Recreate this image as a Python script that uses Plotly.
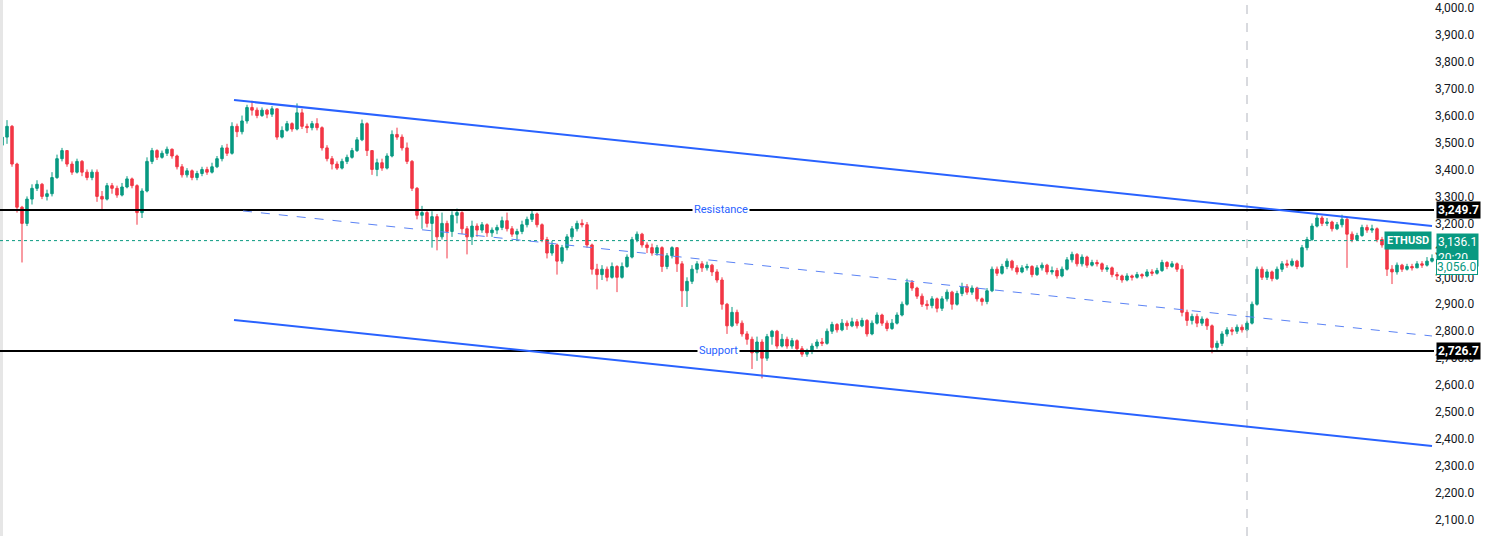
import plotly.graph_objects as go

# ---------------- data (ETHUSD candles) ----------------
first_open = 3490
closes = [
    3520, 3560, 3420, 3260, 3200, 3290, 3330, 3345, 3300, 3310,
    3370, 3440, 3470, 3420, 3390, 3430, 3390, 3370, 3390, 3300,
    3290, 3340, 3330, 3305, 3335, 3365, 3340, 3240, 3320, 3430,
    3470, 3445, 3460, 3475, 3450, 3410, 3380, 3395, 3370, 3385,
    3400, 3390, 3410, 3440, 3480, 3460, 3560, 3540, 3580, 3630,
    3620, 3600, 3620, 3605, 3625, 3520, 3545, 3570, 3550, 3610,
    3560, 3555, 3570, 3555, 3480, 3440, 3420, 3405, 3430, 3445,
    3470, 3510, 3570, 3470, 3400, 3425, 3405, 3450, 3530, 3520,
    3480, 3430, 3330, 3230, 3240, 3200, 3225, 3150, 3200, 3170,
    3230, 3240, 3180, 3150, 3190, 3175, 3195, 3165, 3175, 3185,
    3210, 3180, 3160, 3170, 3195, 3215, 3235, 3195, 3140, 3090,
    3120, 3060, 3110, 3150, 3180, 3200, 3195, 3120, 3030, 3010,
    3030, 3000, 3040, 3000, 3040, 3075, 3140, 3160, 3120, 3110,
    3090, 3110, 3040, 3080, 3110, 3050, 2950, 2985, 3030, 3050,
    3035, 3045, 3020, 2990, 2900, 2820, 2870, 2830, 2790, 2770,
    2720, 2760, 2700, 2780, 2800, 2745, 2770, 2745, 2765, 2735,
    2715, 2725, 2745, 2760, 2755, 2800, 2825, 2805, 2830, 2820,
    2835, 2820, 2840, 2790, 2830, 2860, 2830, 2810, 2830, 2860,
    2900, 2980, 2960, 2930, 2900, 2895, 2920, 2885, 2920, 2945,
    2900, 2940, 2965, 2945, 2960, 2920, 2910, 2950, 3030, 3015,
    3040, 3060, 3035, 3020, 3035, 3040, 3010, 3035, 3045, 3020,
    3025, 3005, 3030, 3065, 3085, 3050, 3075, 3045, 3055, 3050,
    3030, 3035, 3010, 3005, 2990, 3005, 3000, 3010, 3005, 3020,
    3015, 3025, 3055, 3040, 3050, 3030, 2870, 2840, 2855, 2830,
    2845, 2820, 2740, 2755, 2790, 2805, 2800, 2815, 2805, 2830,
    2900, 3030, 3000, 3020, 2995, 3030, 3050, 3045, 3060, 3040,
    3110, 3140, 3190, 3220, 3200, 3205, 3180, 3195, 3215, 3160,
    3140, 3155, 3185, 3175, 3180, 3140, 3120, 3030, 3020, 3045,
    3030, 3040, 3035, 3050, 3045, 3060, 3070,
]
highs = [
    3535, 3583, 3565, 3425, 3265, 3300, 3345, 3360, 3350, 3325,
    3390, 3455, 3480, 3465, 3430, 3440, 3435, 3400, 3400, 3400,
    3320, 3350, 3350, 3340, 3350, 3375, 3370, 3345, 3330, 3445,
    3480, 3475, 3470, 3485, 3478, 3455, 3420, 3405, 3400, 3395,
    3410, 3410, 3425, 3450, 3490, 3495, 3575, 3570, 3600, 3640,
    3655, 3630, 3630, 3625, 3635, 3625, 3560, 3580, 3575, 3645,
    3625, 3570, 3580, 3590, 3560, 3490, 3450, 3430, 3440, 3455,
    3480, 3520, 3585, 3575, 3470, 3440, 3440, 3460, 3545, 3555,
    3530, 3500, 3435, 3335, 3265, 3250, 3245, 3235, 3240, 3210,
    3245, 3255, 3245, 3190, 3210, 3200, 3205, 3200, 3185, 3195,
    3225, 3240, 3190, 3180, 3210, 3225, 3250, 3240, 3200, 3150,
    3135, 3125, 3120, 3160, 3190, 3210, 3215, 3205, 3125, 3050,
    3045, 3040, 3055, 3045, 3055, 3085, 3150, 3170, 3165, 3130,
    3125, 3120, 3115, 3090, 3115, 3110, 3060, 3000, 3045, 3060,
    3060, 3058, 3050, 3030, 3000, 2905, 2890, 2880, 2840, 2800,
    2780, 2780, 2770, 2790, 2805, 2805, 2790, 2780, 2775, 2770,
    2745, 2735, 2755, 2770, 2775, 2810, 2835, 2830, 2845, 2840,
    2850, 2845, 2850, 2845, 2840, 2870, 2865, 2840, 2845, 2870,
    2910, 2995, 2990, 2965, 2940, 2915, 2930, 2925, 2930, 2955,
    2950, 2950, 2980, 2975, 2970, 2965, 2925, 2960, 3040, 3040,
    3050, 3070, 3065, 3045, 3045, 3050, 3045, 3045, 3055, 3050,
    3040, 3035, 3040, 3075, 3095, 3090, 3085, 3080, 3065, 3065,
    3055, 3045, 3040, 3020, 3010, 3015, 3010, 3020, 3015, 3030,
    3030, 3035, 3065, 3060, 3060, 3055, 3045, 2880, 2865, 2865,
    2855, 2850, 2825, 2765, 2800, 2815, 2815, 2825, 2825, 2840,
    2910, 3040, 3040, 3030, 3025, 3040, 3060, 3065, 3070, 3065,
    3120, 3150, 3200, 3232, 3228, 3220, 3210, 3205, 3232, 3220,
    3170, 3165, 3195, 3195, 3195, 3185, 3150, 3125, 3045, 3055,
    3050, 3050, 3050, 3060, 3060, 3075, 3085,
]
lows = [
    3480, 3495, 3410, 3240, 3055, 3190, 3270, 3320, 3290, 3285,
    3300, 3365, 3430, 3410, 3380, 3385, 3375, 3360, 3360, 3280,
    3250, 3285, 3310, 3295, 3300, 3330, 3330, 3195, 3220, 3315,
    3420, 3435, 3440, 3450, 3440, 3400, 3370, 3370, 3360, 3360,
    3375, 3380, 3385, 3405, 3430, 3450, 3455, 3520, 3530, 3570,
    3600, 3590, 3595, 3590, 3595, 3510, 3515, 3540, 3540, 3545,
    3550, 3535, 3545, 3545, 3470, 3430, 3400, 3398, 3400, 3420,
    3440, 3465, 3505, 3450, 3380, 3375, 3395, 3400, 3445, 3510,
    3470, 3420, 3320, 3215, 3180, 3185, 3110, 3100, 3140, 3070,
    3150, 3200, 3160, 3085, 3120, 3150, 3165, 3150, 3150, 3160,
    3175, 3170, 3150, 3140, 3160, 3185, 3205, 3185, 3130, 3070,
    3080, 3010, 3050, 3100, 3140, 3170, 3185, 3110, 3010, 2955,
    2990, 2985, 2995, 2945, 2995, 3035, 3070, 3130, 3110, 3090,
    3080, 3080, 3020, 3030, 3070, 3020, 2890, 2890, 2975, 3015,
    3020, 3025, 3005, 2980, 2880, 2790, 2815, 2820, 2780, 2750,
    2660, 2690, 2625, 2690, 2750, 2735, 2740, 2735, 2735, 2725,
    2705, 2705, 2715, 2735, 2745, 2750, 2790, 2795, 2800, 2805,
    2815, 2810, 2815, 2780, 2785, 2825, 2820, 2800, 2805, 2825,
    2855, 2895, 2950, 2920, 2890, 2880, 2885, 2870, 2875, 2910,
    2880, 2895, 2930, 2935, 2935, 2910, 2895, 2900, 2945, 3005,
    3010, 3030, 3025, 3010, 3015, 3025, 3000, 3005, 3025, 3010,
    3010, 2995, 3000, 3025, 3055, 3040, 3040, 3035, 3040, 3040,
    3020, 3020, 3000, 2990, 2980, 2985, 2988, 2995, 2995, 3000,
    3005, 3010, 3020, 3030, 3035, 3020, 2855, 2820, 2825, 2815,
    2820, 2805, 2718, 2725, 2745, 2780, 2785, 2790, 2795, 2800,
    2825, 2895, 2990, 2990, 2985, 2990, 3020, 3035, 3040, 3030,
    3035, 3100, 3135, 3185, 3190, 3190, 3170, 3175, 3185, 3035,
    3130, 3135, 3150, 3165, 3165, 3130, 3110, 3005, 2975, 3010,
    3020, 3025, 3025, 3035, 3035, 3040, 3055,
]
opens = [first_open] + closes[:-1]
index = list(range(len(closes)))

# price levels / drawings
resistance = 3249.7
support = 2726.7
last_price = 3136.1
last_time = "20:20"
prev_label = 3056.0
symbol = "ETHUSD"
channel_x = [46.4, 286.0]
channel_upper = [3657.6, 3190.3]
channel_lower = [2841.6, 2374.3]
mid_x = [48.2, 286.0]
mid_y = [3246.1, 2782.3]
session_x = 249

y_ticks = list(range(2100, 4001, 100))
y_range = [2040.4, 4028.6]
x_range = [-0.4, 286.4]

GREEN = "#089981"
RED = "#f23645"
BLUE = "#2962ff"

fig = go.Figure()
fig.add_trace(go.Candlestick(
    x=index, open=opens, high=highs, low=lows, close=closes,
    increasing=dict(line=dict(color=GREEN, width=1), fillcolor=GREEN),
    decreasing=dict(line=dict(color=RED, width=1), fillcolor=RED),
    whiskerwidth=0, showlegend=False, hoverinfo="skip",
))

shapes = []
# left border strip
shapes.append(dict(type="rect", xref="paper", yref="paper", x0=0, x1=0.0021, y0=0, y1=1,
                   fillcolor="#e6e6e6", line=dict(width=0), layer="above"))
# current price dotted line
shapes.append(dict(type="line", xref="paper", yref="y", x0=0, x1=1, y0=last_price, y1=last_price,
                   line=dict(color=GREEN, width=1, dash="dot")))
# session vertical dashed line
shapes.append(dict(type="line", xref="x", yref="paper", x0=session_x, x1=session_x, y0=0, y1=1,
                   line=dict(color="#b2b5be", width=1, dash="dash")))
# horizontal levels
for lvl in (resistance, support):
    shapes.append(dict(type="line", xref="paper", yref="y", x0=0, x1=1, y0=lvl, y1=lvl,
                       line=dict(color="#000000", width=2)))
# channel
shapes.append(dict(type="line", xref="x", yref="y", x0=channel_x[0], x1=channel_x[1],
                   y0=channel_upper[0], y1=channel_upper[1], line=dict(color=BLUE, width=2)))
shapes.append(dict(type="line", xref="x", yref="y", x0=channel_x[0], x1=channel_x[1],
                   y0=channel_lower[0], y1=channel_lower[1], line=dict(color=BLUE, width=2)))
shapes.append(dict(type="line", xref="x", yref="y", x0=mid_x[0], x1=mid_x[1],
                   y0=mid_y[0], y1=mid_y[1], line=dict(color="#5b83f5", width=1, dash="dash")))

FONT = "Roboto, Liberation Sans, Arial, sans-serif"
ann = []
ann.append(dict(x=0.503, xref="paper", y=resistance, yref="y", text="Resistance", showarrow=False,
                font=dict(color=BLUE, size=11, family=FONT), bgcolor="white", borderpad=1))
ann.append(dict(x=0.501, xref="paper", y=support, yref="y", text="Support", showarrow=False,
                font=dict(color=BLUE, size=11, family=FONT), bgcolor="white", borderpad=1))
for lvl in (resistance, support):
    ann.append(dict(x=1, xref="paper", xanchor="left", xshift=2, y=lvl, yref="y",
                    text=f"<b>{lvl:,.1f}</b>", showarrow=False, bgcolor="#000000",
                    font=dict(color="white", size=12, family=FONT), borderpad=1))
ann.append(dict(x=1, xref="paper", xanchor="left", xshift=2, y=last_price, yref="y", yanchor="top",
                yshift=8, text=f"{last_price:,.1f}<br>{last_time}", showarrow=False, bgcolor=GREEN,
                align="left", font=dict(color="white", size=12, family=FONT), borderpad=1))
ann.append(dict(x=1, xref="paper", xanchor="left", xshift=2, y=prev_label, yref="y",
                yshift=-5, text=f"{prev_label:,.1f}", showarrow=False, bgcolor="white",
                bordercolor=GREEN, borderwidth=1,
                font=dict(color=GREEN, size=12, family=FONT), borderpad=0))
ann.append(dict(x=1, xref="paper", xanchor="right", xshift=-2, y=last_price, yref="y",
                text=f"<b>{symbol}</b>", showarrow=False, bgcolor=GREEN,
                font=dict(color="white", size=11, family=FONT), borderpad=2))

fig.update_layout(
    width=1486, height=536,
    margin=dict(l=0, r=52, t=0, b=0),
    paper_bgcolor="white", plot_bgcolor="white",
    shapes=shapes, annotations=ann,
    xaxis=dict(range=x_range, visible=False, rangeslider=dict(visible=False), fixedrange=True),
    yaxis=dict(range=y_range, side="right", tickvals=y_ticks, tickformat=",.1f",
               showgrid=False, zeroline=False, showline=False, ticks="",
               tickfont=dict(color="#131722", size=12, family=FONT), fixedrange=True),
    showlegend=False,
)
fig.write_html(
    "out.html",
    config={"displayModeBar": False},
    post_script="document.body.style.margin='0';document.body.style.overflow='hidden';",
)
